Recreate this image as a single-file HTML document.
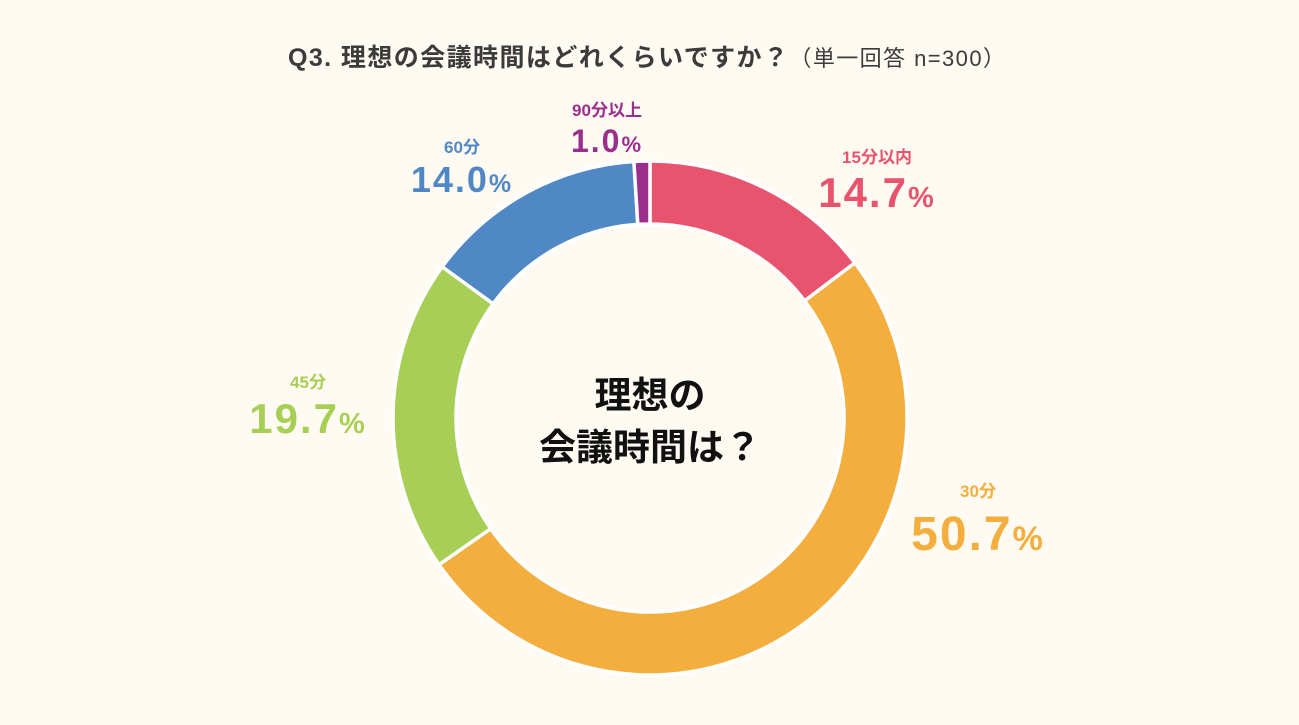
<!DOCTYPE html>
<html><head><meta charset="utf-8"><style>
body{margin:0;width:1299px;height:725px;background:#fffbf2;overflow:hidden;font-family:"Liberation Sans","Noto Sans CJK JP",sans-serif}
svg{display:block}
</style></head><body>
<svg width="1299" height="725">
<text x="288" y="66" font-size="25" font-weight="bold" fill="#3b3b3b" textLength="717" lengthAdjust="spacing">Q3. 理想の会議時間はどれくらいですか？<tspan font-size="22" font-weight="normal">（単一回答 n=300）</tspan></text>
<g id="slices"></g>
<text x="650" y="408" text-anchor="middle" font-size="37" font-weight="bold" fill="#111">理想の</text>
<text x="650" y="460" text-anchor="middle" font-size="37" font-weight="bold" fill="#111">会議時間は？</text>
<g id="labels"></g>
</svg>
<script>
const categories=["15分以内","30分","45分","60分","90分以上"];
const values=[14.7,50.7,19.7,14.0,1.0];
const colors=["#e8546e","#f4ae3e","#a8cf55","#5088c6","#9b2f8e"];
const labelPos=[[877,163,207,42],[978,497,550,48],[308,388,433,42],[462,153,192,36],[607,116,152,32]];
const cx=650,cy=418,R=257,r=194;
const NS="http://www.w3.org/2000/svg";
const total=values.reduce((a,b)=>a+b,0);
let a0=0;
const sg=document.getElementById('slices');
function pt(rad,ang){return [cx+rad*Math.sin(ang),cy-rad*Math.cos(ang)];}
values.forEach((v,i)=>{
 const a1=a0+v/total*2*Math.PI;
 const [x1,y1]=pt(R,a0),[x2,y2]=pt(R,a1),[x3,y3]=pt(r,a1),[x4,y4]=pt(r,a0);
 const lg=(a1-a0)>Math.PI?1:0;
 const p=document.createElementNS(NS,'path');
 p.setAttribute('d',`M${x1},${y1}A${R},${R} 0 ${lg} 1 ${x2},${y2}L${x3},${y3}A${r},${r} 0 ${lg} 0 ${x4},${y4}Z`);
 p.setAttribute('fill',colors[i]);p.setAttribute('stroke','#fff');p.setAttribute('stroke-width','3.5');
 
 
 sg.appendChild(p);
 a0=a1;
});
const lg=document.getElementById('labels');
values.forEach((v,i)=>{
 const [x,y1,y2,fs]=labelPos[i];
 const t=document.createElementNS(NS,'text');
 t.setAttribute('x',x);t.setAttribute('y',y1);t.setAttribute('text-anchor','middle');
 t.setAttribute('font-size',17);t.setAttribute('font-weight','bold');t.setAttribute('fill',colors[i]);
 t.textContent=categories[i];
 
 
 lg.appendChild(t);
 const t2=document.createElementNS(NS,'text');
 t2.setAttribute('x',x);t2.setAttribute('y',y2);t2.setAttribute('text-anchor','middle');
 t2.setAttribute('font-size',fs);t2.setAttribute('font-weight','bold');t2.setAttribute('fill',colors[i]);
 t2.setAttribute('letter-spacing','2');
 t2.innerHTML=v.toFixed(1)+'<tspan font-size="'+Math.round(fs*0.7)+'">%</tspan>';
 
 
 lg.appendChild(t2);
});
</script>
</body></html>
